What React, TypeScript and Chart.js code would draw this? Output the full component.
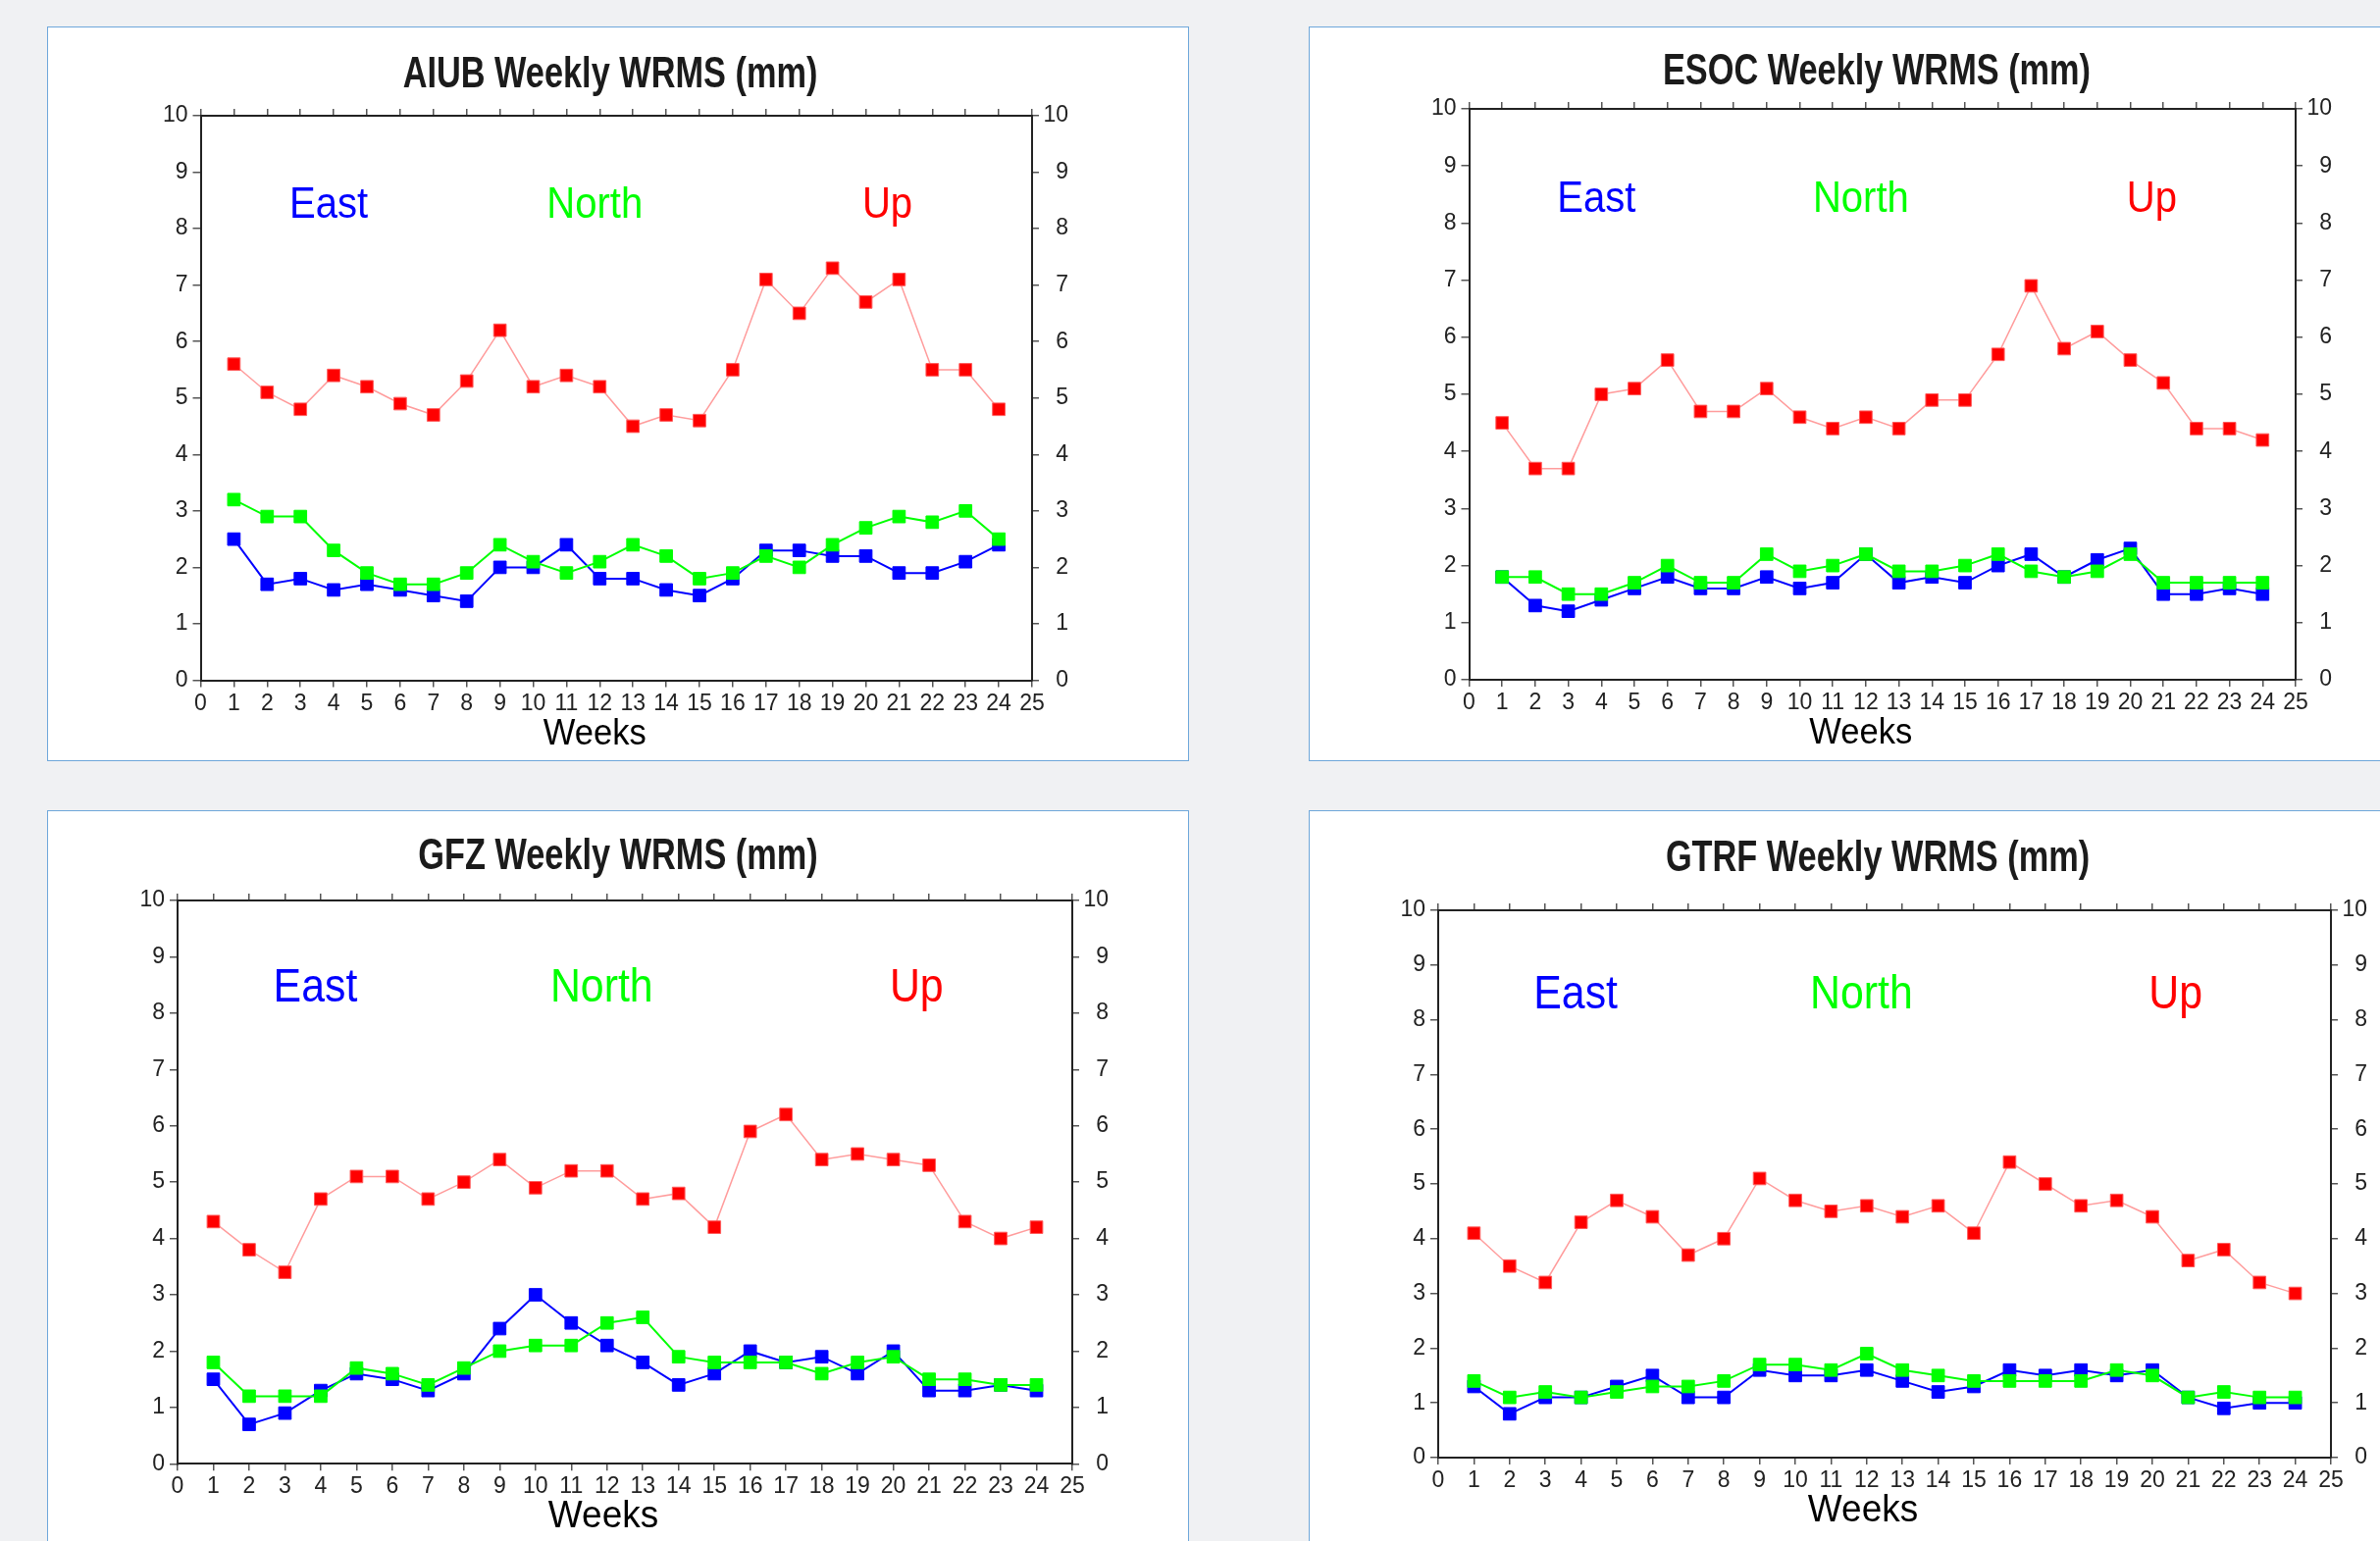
import React, { useEffect, useRef } from "react";
import { Chart, registerables } from "chart.js";

Chart.register(...registerables);

// ---------- data ----------
const weeks = [1, 2, 3, 4, 5, 6, 7, 8, 9, 10, 11, 12, 13, 14, 15, 16, 17, 18, 19, 20, 21, 22, 23, 24];

const aiubEast = [2.5, 1.7, 1.8, 1.6, 1.7, 1.6, 1.5, 1.4, 2.0, 2.0, 2.4, 1.8, 1.8, 1.6, 1.5, 1.8, 2.3, 2.3, 2.2, 2.2, 1.9, 1.9, 2.1, 2.4];
const aiubNorth = [3.2, 2.9, 2.9, 2.3, 1.9, 1.7, 1.7, 1.9, 2.4, 2.1, 1.9, 2.1, 2.4, 2.2, 1.8, 1.9, 2.2, 2.0, 2.4, 2.7, 2.9, 2.8, 3.0, 2.5];
const aiubUp = [5.6, 5.1, 4.8, 5.4, 5.2, 4.9, 4.7, 5.3, 6.2, 5.2, 5.4, 5.2, 4.5, 4.7, 4.6, 5.5, 7.1, 6.5, 7.3, 6.7, 7.1, 5.5, 5.5, 4.8];

const esocEast = [1.8, 1.3, 1.2, 1.4, 1.6, 1.8, 1.6, 1.6, 1.8, 1.6, 1.7, 2.2, 1.7, 1.8, 1.7, 2.0, 2.2, 1.8, 2.1, 2.3, 1.5, 1.5, 1.6, 1.5];
const esocNorth = [1.8, 1.8, 1.5, 1.5, 1.7, 2.0, 1.7, 1.7, 2.2, 1.9, 2.0, 2.2, 1.9, 1.9, 2.0, 2.2, 1.9, 1.8, 1.9, 2.2, 1.7, 1.7, 1.7, 1.7];
const esocUp = [4.5, 3.7, 3.7, 5.0, 5.1, 5.6, 4.7, 4.7, 5.1, 4.6, 4.4, 4.6, 4.4, 4.9, 4.9, 5.7, 6.9, 5.8, 6.1, 5.6, 5.2, 4.4, 4.4, 4.2];

const gfzEast = [1.5, 0.7, 0.9, 1.3, 1.6, 1.5, 1.3, 1.6, 2.4, 3.0, 2.5, 2.1, 1.8, 1.4, 1.6, 2.0, 1.8, 1.9, 1.6, 2.0, 1.3, 1.3, 1.4, 1.3];
const gfzNorth = [1.8, 1.2, 1.2, 1.2, 1.7, 1.6, 1.4, 1.7, 2.0, 2.1, 2.1, 2.5, 2.6, 1.9, 1.8, 1.8, 1.8, 1.6, 1.8, 1.9, 1.5, 1.5, 1.4, 1.4];
const gfzUp = [4.3, 3.8, 3.4, 4.7, 5.1, 5.1, 4.7, 5.0, 5.4, 4.9, 5.2, 5.2, 4.7, 4.8, 4.2, 5.9, 6.2, 5.4, 5.5, 5.4, 5.3, 4.3, 4.0, 4.2];

const gtrfEast = [1.3, 0.8, 1.1, 1.1, 1.3, 1.5, 1.1, 1.1, 1.6, 1.5, 1.5, 1.6, 1.4, 1.2, 1.3, 1.6, 1.5, 1.6, 1.5, 1.6, 1.1, 0.9, 1.0, 1.0];
const gtrfNorth = [1.4, 1.1, 1.2, 1.1, 1.2, 1.3, 1.3, 1.4, 1.7, 1.7, 1.6, 1.9, 1.6, 1.5, 1.4, 1.4, 1.4, 1.4, 1.6, 1.5, 1.1, 1.2, 1.1, 1.1];
const gtrfUp = [4.1, 3.5, 3.2, 4.3, 4.7, 4.4, 3.7, 4.0, 5.1, 4.7, 4.5, 4.6, 4.4, 4.6, 4.1, 5.4, 5.0, 4.6, 4.7, 4.4, 3.6, 3.8, 3.2, 3.0];

const seriesNames = ["East", "North", "Up"];
const seriesLabelX = [3.85, 11.85, 20.65];
const seriesLabelY = 8.2;
const xRange = [0, 25];
const yRange = [0, 10];
const xAxisTitle = "Weeks";

// ---------- styles ----------
const EAST_COLOR = "#0000ff";
const NORTH_COLOR = "#00ff00";
const UP_COLOR = "#ff0000";
const UP_LINE = "#ff9c9c";
const FONT = '"Liberation Sans", Arial, Helvetica, sans-serif';
const CANVAS_W = 1164;
const CANVAS_H = 749;
const RIGHT_AXIS_W = 37;

type PanelDef = {
  title: string;
  east: number[];
  north: number[];
  up: number[];
  left: number;
  top: number;
  plot: { l: number; t: number; r: number; b: number };
  titleX: number;
  titleY: number;
  textScale: number;
};

const panels: PanelDef[] = [
  { title: "AIUB Weekly WRMS (mm)", east: aiubEast, north: aiubNorth, up: aiubUp, left: 48, top: 27,
    plot: { l: 156.5, t: 91, r: 1004, b: 666.5 }, titleX: 574, titleY: 62, textScale: 1 },
  { title: "ESOC Weekly WRMS (mm)", east: esocEast, north: esocNorth, up: esocUp, left: 1334, top: 27,
    plot: { l: 163.5, t: 84, r: 1006, b: 666 }, titleX: 579, titleY: 59, textScale: 1 },
  { title: "GFZ Weekly WRMS (mm)", east: gfzEast, north: gfzNorth, up: gfzUp, left: 48, top: 826,
    plot: { l: 133, t: 92, r: 1045, b: 666.3 }, titleX: 582, titleY: 60, textScale: 1.07 },
  { title: "GTRF Weekly WRMS (mm)", east: gtrfEast, north: gtrfNorth, up: gtrfUp, left: 1334, top: 826,
    plot: { l: 132, t: 102, r: 1042, b: 660 }, titleX: 580, titleY: 61.5, textScale: 1.07 },
];

function drawScaledText(ctx: CanvasRenderingContext2D, text: string, x: number, y: number, font: string, sx: number, color: string) {
  ctx.save();
  ctx.translate(x, y);
  ctx.scale(sx, 1);
  ctx.font = font;
  ctx.fillStyle = color;
  ctx.textAlign = "center";
  ctx.textBaseline = "alphabetic";
  ctx.fillText(text, 0, 0);
  ctx.restore();
}

function Panel({ def }: { def: PanelDef }) {
  const ref = useRef<HTMLCanvasElement | null>(null);

  useEffect(() => {
    const canvas = ref.current;
    if (!canvas) return;
    const pts = (vals: number[]) => weeks.map((w, i) => ({ x: w, y: vals[i] }));
    const p = def.plot;

    const textPlugin = {
      id: "panelText",
      afterDraw(chart: any) {
        const ctx = chart.ctx as CanvasRenderingContext2D;
        const area = chart.chartArea;
        const xs = chart.scales.x;
        const ys = chart.scales.y;
        drawScaledText(ctx, def.title, def.titleX, def.titleY, `bold 44px ${FONT}`, 0.78, "#1b1b1b");
        const cx = (area.left + area.right) / 2;
        const ws = 36 * def.textScale;
        drawScaledText(ctx, xAxisTitle, cx - 22, area.bottom + 65, `${ws}px ${FONT}`, 0.96, "#000");
        const colors = [EAST_COLOR, NORTH_COLOR, UP_COLOR];
        const ls = 45 * def.textScale;
        seriesNames.forEach((n, i) => {
          drawScaledText(ctx, n, xs.getPixelForValue(seriesLabelX[i]), ys.getPixelForValue(seriesLabelY), `${ls}px ${FONT}`, 0.89, colors[i]);
        });
      },
    };

    const tickFont = { family: FONT, size: 23 };
    const gridCommon = { drawOnChartArea: false, drawTicks: true, color: "#555", lineWidth: 1.5 };
    const borderCommon = { display: true, color: "#222", width: 2 };
    const pointCommon = { pointStyle: "rect", pointRadius: 9, pointBorderWidth: 1, tension: 0 };

    const chart = new Chart(canvas, {
      type: "line",
      data: {
        datasets: [
          { label: "North", data: pts(def.north), borderColor: NORTH_COLOR, backgroundColor: NORTH_COLOR, borderWidth: 2,
            pointBackgroundColor: NORTH_COLOR, pointBorderColor: NORTH_COLOR, ...pointCommon },
          { label: "East", data: pts(def.east), borderColor: EAST_COLOR, backgroundColor: EAST_COLOR, borderWidth: 2,
            pointBackgroundColor: EAST_COLOR, pointBorderColor: EAST_COLOR, ...pointCommon },
          { label: "Up", data: pts(def.up), borderColor: UP_LINE, backgroundColor: UP_COLOR, borderWidth: 1.5,
            pointBackgroundColor: UP_COLOR, pointBorderColor: "#ff5a5a", ...pointCommon },
        ],
      },
      options: {
        animation: false,
        responsive: false,
        maintainAspectRatio: false,
        layout: { padding: { left: 0, top: 0, bottom: 0, right: CANVAS_W - p.r - RIGHT_AXIS_W } },
        plugins: { legend: { display: false }, tooltip: { enabled: false }, title: { display: false } },
        scales: {
          x: {
            type: "linear", position: "bottom", min: xRange[0], max: xRange[1],
            ticks: { stepSize: 1, autoSkip: false, maxRotation: 0, font: tickFont, color: "#222", padding: 3 },
            grid: { ...gridCommon, tickLength: 7 },
            border: borderCommon,
            afterFit: (s: any) => { s.height = CANVAS_H - p.b; },
          },
          xTop: {
            type: "linear", position: "top", min: xRange[0], max: xRange[1],
            ticks: { stepSize: 1, display: false, autoSkip: false },
            grid: { ...gridCommon, tickLength: 7 },
            border: borderCommon,
            afterFit: (s: any) => { s.height = p.t; },
          },
          y: {
            type: "linear", position: "left", min: yRange[0], max: yRange[1],
            ticks: { stepSize: 1, font: tickFont, color: "#222", padding: 5 },
            grid: { ...gridCommon, tickLength: 8 },
            border: borderCommon,
            afterFit: (s: any) => { s.width = p.l; },
          },
          yRight: {
            type: "linear", position: "right", min: yRange[0], max: yRange[1],
            ticks: { stepSize: 1, font: tickFont, color: "#222", padding: 4, crossAlign: "far" },
            grid: { ...gridCommon, tickLength: 7 },
            border: borderCommon,
            afterFit: (s: any) => { s.width = RIGHT_AXIS_W; },
          },
        },
      } as any,
      plugins: [textPlugin],
    });
    return () => chart.destroy();
  }, [def]);

  return (
    <>
      <div
        style={{
          position: "absolute", left: def.left, top: def.top, width: CANVAS_W, height: CANVAS_H,
          background: "#ffffff", border: "1.5px solid #6ea7da", boxSizing: "border-box",
        }}
      />
      <canvas
        ref={ref}
        width={CANVAS_W}
        height={CANVAS_H}
        style={{ position: "absolute", left: def.left, top: def.top, width: CANVAS_W, height: CANVAS_H }}
      />
    </>
  );
}

export default function App() {
  return (
    <div
      style={{
        position: "fixed", left: 0, top: 0, width: 2426, height: 1571, overflow: "hidden",
        background: "#f0f1f3",
      }}
    >
      {panels.map((d) => (
        <Panel key={d.title} def={d} />
      ))}
    </div>
  );
}
